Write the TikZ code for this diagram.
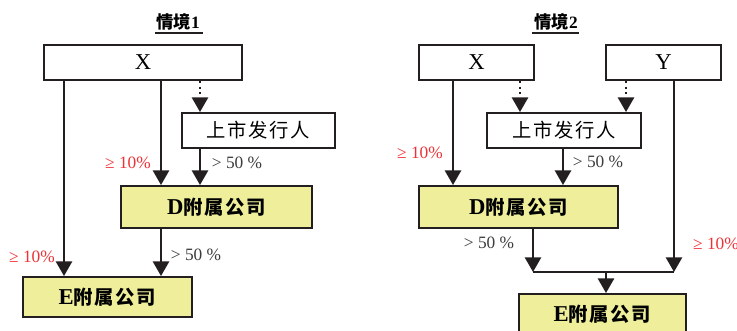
\documentclass[tikz,border=0pt]{standalone}
\usepackage{fontspec}
\setmainfont{Liberation Serif}
\newfontfamily\cjk[LetterSpace=9]{Noto Sans CJK SC}
\newfontfamily\cjktitle{Noto Sans CJK SC}
\usetikzlibrary{arrows.meta}
\definecolor{boxline}{RGB}{35,31,32}
\definecolor{subfill}{RGB}{238,238,155}
\definecolor{pctred}{RGB}{237,50,55}
\definecolor{pctgray}{RGB}{60,60,60}
\tikzset{
    entity/.style={draw=boxline,line width=1.4pt,minimum height=26.25pt,inner sep=0pt,font=\fontsize{14.5}{14.5}\selectfont},
    subco/.style={entity,fill=subfill,minimum height=31.5pt},
    arr/.style={draw=boxline,line width=2pt,-{Triangle[width=12pt,length=11pt]}},
    darr/.style={arr,dash pattern=on 1.5pt off 2.8pt},
    pct/.style={text=pctgray,font=\fontsize{13}{13}\selectfont,inner sep=0pt},
    redpct/.style={pct,text=pctred},
    caption/.style={font=\bfseries\fontsize{13}{13}\selectfont,inner sep=1pt}
}
\begin{document}
\begin{tikzpicture}[x=0.75pt,y=-0.75pt]
    \useasboundingbox (0,0) rectangle (737,331);
    % situation 1
    \node[caption] (t1) at (178,22) {\cjktitle 情境\rmfamily 1};
    \draw[boxline,line width=1.3pt] (155,33) -- (203,33);
    \node[entity,minimum width=148.5pt] (X1) at (143,62.5) {\fontsize{17}{17}\selectfont X};
    \node[entity,minimum width=114.75pt] (P1) at (258.5,130.5) {\cjk 上市发行人};
    \node[subco,minimum width=143.25pt] (D1) at (216.5,207) {\bfseries\fontsize{17}{17}\selectfont D\cjk\fontsize{14.5}{14.5}\selectfont 附属公司};
    \node[subco,minimum width=126.75pt,minimum height=30pt] (E1) at (107.5,297) {\bfseries\fontsize{17}{17}\selectfont E\cjk\fontsize{14.5}{14.5}\selectfont 附属公司};
    \draw[arr] (X1.south -| 64,0) -- (E1.north -| 64,0);
    \draw[arr] (X1.south -| 161,0) -- (D1.north -| 161,0);
    \draw[darr] (X1.south -| 200,0) -- (P1.north -| 200,0);
    \draw[arr] (P1.south -| 200,0) -- (D1.north -| 200,0);
    \draw[arr] (D1.south -| 161,0) -- (E1.north -| 161,0);
    \node[redpct] (r1a) at (128,163) {≥ 10\%};
    \node[pct] (g1a) at (237,163) {> 50 \%};
    \node[redpct] (r1b) at (32,257) {≥ 10\%};
    \node[pct] (g1b) at (196,255) {> 50 \%};
    % situation 2
    \node[caption] (t2) at (556,22) {\cjktitle 情境\rmfamily 2};
    \draw[boxline,line width=1.3pt] (532,33) -- (579,33);
    \node[entity,minimum width=86.25pt] (X2) at (476.5,62.5) {\fontsize{17}{17}\selectfont X};
    \node[entity,minimum width=86.25pt] (Y2) at (663.5,62.5) {\fontsize{17}{17}\selectfont Y};
    \node[entity,minimum width=115.5pt] (P2) at (564,130.5) {\cjk 上市发行人};
    \node[subco,minimum width=149.25pt] (D2) at (518.5,207) {\bfseries\fontsize{17}{17}\selectfont D\cjk\fontsize{14.5}{14.5}\selectfont 附属公司};
    \node[subco,minimum width=125.25pt,minimum height=30pt] (E2) at (602.5,314) {\bfseries\fontsize{17}{17}\selectfont E\cjk\fontsize{14.5}{14.5}\selectfont 附属公司};
    \coordinate (jl) at (533,272);
    \coordinate (jr) at (674,272);
    \coordinate (jm) at (606,272);
    \draw[arr] (X2.south -| 453,0) -- (D2.north -| 453,0);
    \draw[darr] (X2.south -| 520,0) -- (P2.north -| 520,0);
    \draw[darr] (Y2.south -| 626,0) -- (P2.north -| 626,0);
    \draw[arr] (P2.south -| 563,0) -- (D2.north -| 563,0);
    \draw[arr] (D2.south -| jl) -- (jl);
    \draw[arr] (Y2.south -| jr) -- (jr);
    \draw[boxline,line width=1.3pt] (jl) -- (jr);
    \draw[arr] (jm) -- (E2.north -| jm);
    \node[redpct] (r2a) at (420,153) {≥ 10\%};
    \node[pct] (g2a) at (598,162) {> 50 \%};
    \node[pct] (g2b) at (489,243) {> 50 \%};
    \node[redpct] (r2b) at (716,244) {≥ 10\%};
\end{tikzpicture}
\end{document}
